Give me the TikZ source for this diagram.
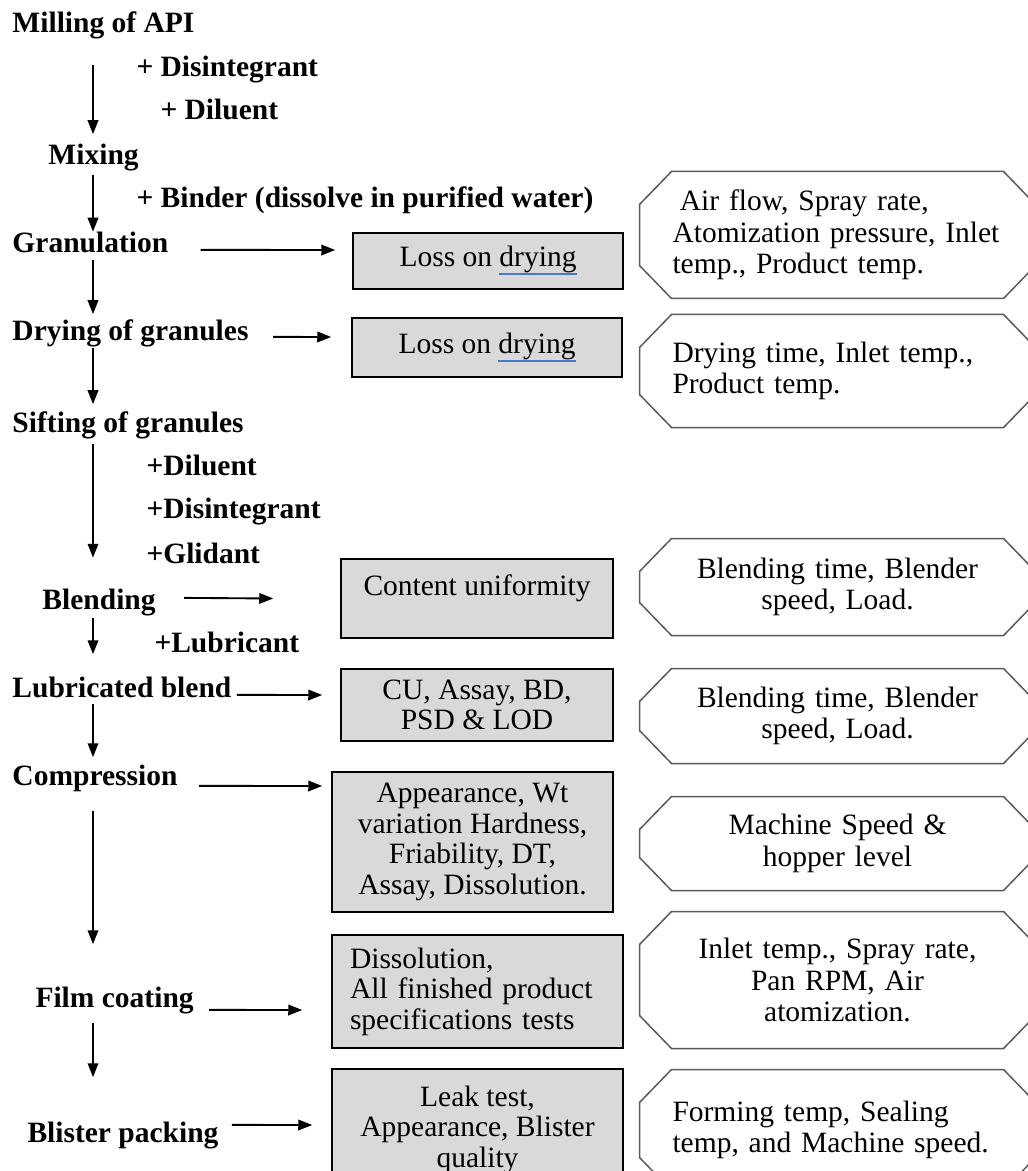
\documentclass[tikz,border=0pt]{standalone}
\usepackage{fontspec}
\setmainfont{Liberation Serif}
\usetikzlibrary{arrows.meta,calc}
\definecolor{qcGray}{HTML}{D9D9D9}
\definecolor{qcEdge}{HTML}{5A5A5A}
\definecolor{qcSpell}{HTML}{4A78C8}
\newcommand\spellmark[1]{\setbox0\hbox{#1}\rlap{\color{qcSpell}\rule[-3.4pt]{\wd0}{0.8pt}}\box0}
\tikzset{
  qcArrow/.style={-{Triangle[length=5.6pt,width=4.2pt]}, line width=0.75pt, draw=black},
  qcStep/.style={
    anchor=base west,
    inner sep=0pt,
    font=\fontsize{11.8}{12.4}\selectfont\bfseries,
    text height=8.3pt,
    text depth=2.6pt
  },
  qcTest/.style={
    draw=black,
    fill=qcGray,
    line width=0.6pt,
    align=center,
    inner sep=2pt,
    font=\fontsize{11.8}{12.2}\selectfont
  },
  qcParam/.style={
    inner xsep=13pt,
    inner ysep=0pt,
    text width=132pt,
    minimum width=158pt,
    font=\fontsize{11.8}{12.6}\selectfont
  },
  qcOct/.style={draw=qcEdge, line width=0.6pt, line join=miter}
}

\begin{document}
\begin{tikzpicture}[x=0.4pt, y=-0.4pt]
  \useasboundingbox[fill=white] (0,0) rectangle (1027,1171);

  % process steps and additions
  \node[qcStep] (mill) at (12,33) {Milling of API};
  \node[qcStep] (dis1) at (136,77) {+ Disintegrant};
  \node[qcStep] (dil1) at (160,120) {+ Diluent};
  \node[qcStep] (mix) at (48,165) {Mixing};
  \node[qcStep] (binder) at (136,208) {+ Binder (dissolve in purified water)};
  \node[qcStep] (gran) at (12,253) {Granulation};
  \node[qcStep] (dry) at (12,341) {Drying of granules};
  \node[qcStep] (sift) at (12,432) {Sifting of granules};
  \node[qcStep] (dil2) at (146,475) {+Diluent};
  \node[qcStep] (dis2) at (146,518) {+Disintegrant};
  \node[qcStep] (glid) at (146,563) {+Glidant};
  \node[qcStep] (blend) at (42,609) {Blending};
  \node[qcStep] (lub) at (154,652) {+Lubricant};
  \node[qcStep] (lubb) at (12,697) {Lubricated blend};
  \node[qcStep] (comp) at (12,785) {Compression};
  \node[qcStep] (film) at (35,1007) {Film coating};
  \node[qcStep] (blister) at (27,1142) {Blister packing};

  % in-process tests
  \node[qcTest, minimum width=108pt, minimum height=22.4pt] (lod1) at (488,261)
    {Loss on \spellmark{drying}};
  \node[qcTest, minimum width=108pt, minimum height=23.6pt] (lod2) at (487,347.5)
    {Loss on \spellmark{drying}};
  \node[qcTest, minimum width=108.8pt, inner ysep=0pt, text height=14.4pt, text depth=17.2pt] (cu) at (477,598.5)
    {Content uniformity};
  \node[qcTest, minimum width=108.8pt, minimum height=28.8pt] (cub) at (477,705)
    {CU, Assay, BD,\\PSD \& LOD};
  \node[qcTest, minimum width=112.4pt, minimum height=56pt] (app) at (472.5,842)
    {Appearance, Wt\\variation Hardness,\\Friability, DT,\\Assay, Dissolution.};
  \node[qcTest, minimum width=116.4pt, minimum height=45.2pt, align=left, text width=102pt, inner xsep=7.2pt] (diss) at (477.5,991.5)
    {Dissolution,\\All finished product\\specifications tests};
  \node[qcTest, minimum width=116.4pt, minimum height=48.4pt] (leak) at (477.5,1129.5)
    {Leak test,\\Appearance, Blister\\quality};

  % critical process parameters
  \node[qcParam, align=left, minimum height=50.4pt] (oct1) at (837.5,235)
    {\hspace*{0.25em}Air flow, Spray rate,\\Atomization pressure, Inlet\\temp., Product temp.};
  \node[qcParam, align=left, minimum height=44.8pt] (oct2) at (837.5,371)
    {Drying time, Inlet temp.,\\Product temp.};
  \node[qcParam, align=center, minimum height=38.4pt] (oct3) at (837.5,587)
    {Blending time, Blender\\speed, Load.};
  \node[qcParam, align=center, minimum height=37.6pt] (oct4) at (837.5,716)
    {Blending time, Blender\\speed, Load.};
  \node[qcParam, align=center, minimum height=37.2pt] (oct5) at (837.5,843.5)
    {Machine Speed \&\\hopper level};
  \node[qcParam, align=center, minimum height=54.4pt] (oct6) at (837.5,980)
    {Inlet temp., Spray rate,\\Pan RPM, Air\\atomization.};
  \node[qcParam, align=left, minimum height=48pt] (oct7) at (837.5,1130)
    {Forming temp, Sealing\\temp, and Machine speed.};

  \foreach \p in {oct1,oct2,oct3,oct4,oct5,oct6,oct7}
    \draw[qcOct] ($(\p.north west)+(32,0)$) -- ($(\p.north east)+(-32,0)$)
      -- ($(\p.north east)+(0,33)$) -- ($(\p.south east)+(0,-33)$)
      -- ($(\p.south east)+(-32,0)$) -- ($(\p.south west)+(32,0)$)
      -- ($(\p.south west)+(0,-33)$) -- ($(\p.north west)+(0,33)$) -- cycle;

  % main flow
  \coordinate (spine) at (93,0);
  \foreach \a/\b/\s/\e in {mill/mix/10.2pt/3.8pt,mix/gran/1.4pt/0pt,gran/dry/0pt/2.2pt,dry/sift/0pt/2.6pt,sift/blend/1.8pt/12pt,blend/lubb/0.6pt/8.6pt,lubb/comp/0pt/2.6pt,comp/film/7.4pt/16.6pt,film/blister/3.4pt/17.4pt}
    \draw[qcArrow, shorten <=\s, shorten >=\e] (\a.south -| spine) -- (\b.north -| spine);

  % step to test
  \foreach \a/\b/\sx/\sy/\ex/\ey in {gran/lod1/32/4/-17/-11,dry/lod2/24/3/-20/-10.5,blend/cu/28/-4/-67/0,lubb/cub/5/5/-18/-10,comp/app/21/8/-9/-56,film/diss/15/10/-29/18.5,blister/leak/13/-10/-19/-4.5}
    \draw[qcArrow] ($(\a.east)+(\sx,\sy)$) -- ($(\b.west)+(\ex,\ey)$);
\end{tikzpicture}
\end{document}
